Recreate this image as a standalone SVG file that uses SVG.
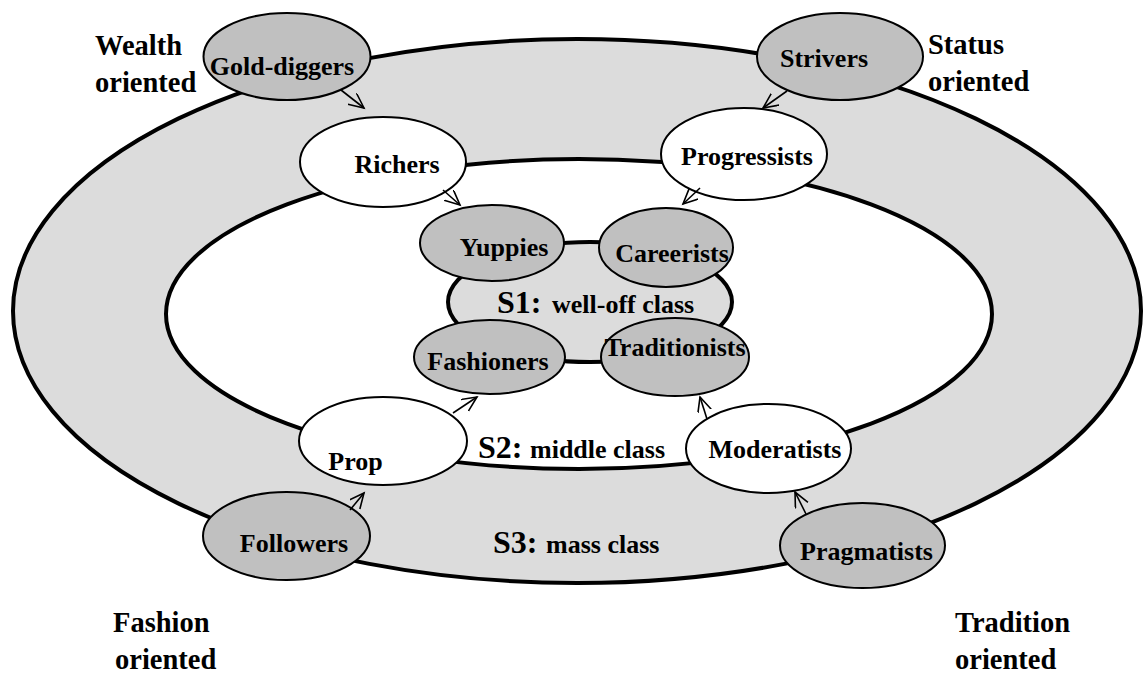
<svg xmlns="http://www.w3.org/2000/svg" width="1144" height="673" viewBox="0 0 1144 673">
<defs>
<style>
text{font-family:"Liberation Serif","Times New Roman",serif;font-weight:bold;fill:#000}
.lbl{font-size:26px;text-anchor:middle}
.corner{font-size:28.5px}
.big{font-size:32px}
.dark{fill:#c0c0c0;stroke:#000;stroke-width:2}
.light{fill:#fff;stroke:#000;stroke-width:2}
.conn{stroke:#000;stroke-width:1.6;fill:none;marker-end:url(#arr)}
</style>
<marker id="arr" markerUnits="userSpaceOnUse" markerWidth="18" markerHeight="16" refX="15" refY="7" orient="auto">
<path d="M0,0 L15,7 L0,14" fill="none" stroke="#000" stroke-width="1.6"/>
</marker>
</defs>
<rect width="1144" height="673" fill="#fff"/>
<g id="rings">
<ellipse cx="577" cy="311" rx="564" ry="272" fill="#dcdcdc" stroke="#000" stroke-width="4"/>
<ellipse cx="579" cy="314" rx="413" ry="155" fill="#fff" stroke="#000" stroke-width="4"/>
<ellipse cx="590" cy="302" rx="142" ry="60" fill="#dcdcdc" stroke="#000" stroke-width="4"/>
</g>
<g id="class-labels">
<text x="497" y="313"><tspan class="big">S1:</tspan><tspan x="552" font-size="26">well-off class</tspan></text>
<text x="478" y="458"><tspan class="big">S2:</tspan><tspan x="530" font-size="26">middle class</tspan></text>
<text x="493" y="553"><tspan class="big">S3:</tspan><tspan x="546" font-size="26">mass class</tspan></text>
</g>
<g id="corners">
<text class="corner" x="95" y="55">Wealth</text>
<text class="corner" x="95" y="92">oriented</text>
<text class="corner" x="928" y="54">Status</text>
<text class="corner" x="928" y="91">oriented</text>
<text class="corner" x="113" y="632">Fashion</text>
<text class="corner" x="115" y="669">oriented</text>
<text class="corner" x="955" y="632">Tradition</text>
<text class="corner" x="955" y="669">oriented</text>
</g>
<g id="n-golddiggers"><ellipse class="dark" cx="287" cy="56.5" rx="83.5" ry="43.5"/><text class="lbl" x="282" y="75">Gold-diggers</text></g>
<g id="n-strivers"><ellipse class="dark" cx="840" cy="56.5" rx="83" ry="43.5"/><text class="lbl" x="824" y="67">Strivers</text></g>
<g id="n-richers"><ellipse class="light" cx="383" cy="162" rx="83" ry="45"/><text class="lbl" x="397" y="173">Richers</text></g>
<g id="n-progressists"><ellipse class="light" cx="744" cy="154" rx="83" ry="46"/><text class="lbl" x="747" y="165">Progressists</text></g>
<g id="n-yuppies"><ellipse class="dark" cx="492" cy="243" rx="72" ry="38"/><text class="lbl" x="504" y="256">Yuppies</text></g>
<g id="n-careerists"><ellipse class="dark" cx="666" cy="247.5" rx="67" ry="39.5"/><text class="lbl" x="672" y="262">Careerists</text></g>
<g id="n-fashioners"><ellipse class="dark" cx="489.5" cy="357" rx="75.5" ry="37"/><text class="lbl" x="488" y="370">Fashioners</text></g>
<g id="n-traditionists"><ellipse class="dark" cx="675" cy="357" rx="74" ry="39"/><text class="lbl" x="675" y="356">Traditionists</text></g>
<g id="n-prop"><ellipse class="light" cx="383" cy="441" rx="84" ry="44"/><text class="lbl" x="355.5" y="470">Prop</text></g>
<g id="n-moderatists"><ellipse class="light" cx="768.5" cy="448.5" rx="82.5" ry="44.5"/><text class="lbl" x="775" y="458">Moderatists</text></g>
<g id="n-followers"><ellipse class="dark" cx="286.5" cy="536" rx="83.5" ry="44"/><text class="lbl" x="294" y="552">Followers</text></g>
<g id="n-pragmatists"><ellipse class="dark" cx="862.5" cy="545.5" rx="82.5" ry="42.5"/><text class="lbl" x="866.5" y="560">Pragmatists</text></g>
<g id="connectors">
<line class="conn" x1="341" y1="90" x2="364" y2="108"/>
<line class="conn" x1="787" y1="91" x2="763" y2="108"/>
<line class="conn" x1="443" y1="190" x2="460" y2="205"/>
<line class="conn" x1="700" y1="188" x2="683" y2="204"/>
<line class="conn" x1="453" y1="413" x2="477" y2="397"/>
<line class="conn" x1="350" y1="510" x2="364" y2="493"/>
<line class="conn" x1="707" y1="419" x2="700" y2="397"/>
<line class="conn" x1="806" y1="514" x2="795" y2="492"/>
</g>
</svg>
